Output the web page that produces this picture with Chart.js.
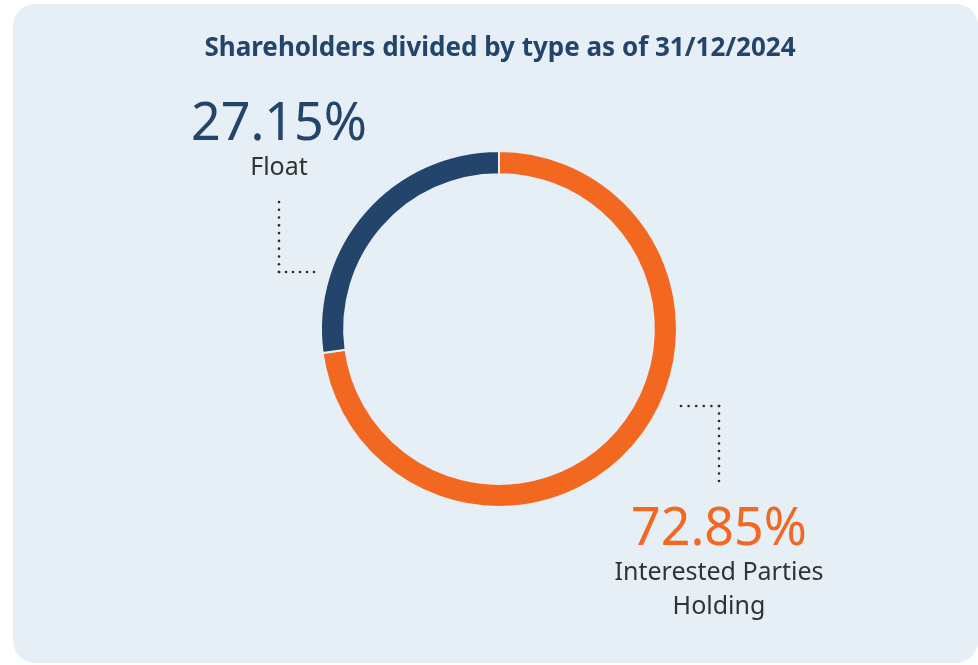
<!DOCTYPE html>
<html>
<head>
<meta charset="utf-8">
<script src="https://cdn.jsdelivr.net/npm/chart.js@4"></script>
<style>
  html, body { margin: 0; padding: 0; background: #fff; }
  #panel { position: absolute; left: 13px; top: 4px; width: 965px; height: 659px; border-radius: 22px; background: #e6eff5; }
  #wrap { position: absolute; left: 0; top: 0; width: 978px; height: 665px; }
</style>
</head>
<body>
<div id="panel"></div>
<div id="wrap"><canvas id="myCanvas"></canvas></div>
<script>
var titleText = "Shareholders divided by type as of 31/12/2024";
var labels = ["Interested Parties Holding", "Float"];
var values = [72.85, 27.15];
var colors = ["#f36821", "#24456b"];

// text + dotted leaders for each slice
var calloutPlugin = {
  id: "callouts",
  afterDraw: function(chart) {
    var ctx = chart.ctx;
    ctx.save();
    ctx.textAlign = "center";
    ctx.textBaseline = "alphabetic";

    ctx.fillStyle = "#24456b";
    ctx.font = "bold 26px 'Noto Sans'";
    ctx.fillText(titleText, 500, 56);

    // Float
    ctx.fillStyle = colors[1];
    ctx.font = "52px 'Noto Sans'";
    ctx.fillText(values[1].toFixed(2) + "%", 279, 140);
    ctx.fillStyle = "#333333";
    ctx.font = "25px 'Noto Sans'";
    ctx.fillText(labels[1], 279, 175);

    // Interested parties
    ctx.fillStyle = colors[0];
    ctx.font = "52px 'Noto Sans'";
    ctx.fillText(values[0].toFixed(2) + "%", 719, 545);
    ctx.fillStyle = "#333333";
    ctx.font = "25px 'Noto Sans'";
    ctx.fillText("Interested Parties", 719, 580);
    ctx.fillText("Holding", 719, 614);

    function dots(x1, y1, x2, y2) {
      var len = Math.hypot(x2 - x1, y2 - y1);
      var n = Math.round(len / 7.5);
      ctx.fillStyle = "#2b2b2b";
      for (var i = 0; i <= n; i++) {
        var t = n ? i / n : 0;
        ctx.beginPath();
        ctx.arc(x1 + (x2 - x1) * t, y1 + (y2 - y1) * t, 1.3, 0, Math.PI * 2);
        ctx.fill();
      }
    }
    dots(279, 202, 279, 272);
    dots(279, 272, 314, 272);
    dots(681, 406, 719, 406);
    dots(719, 406, 719, 481);
    ctx.restore();
  }
};

var c = document.getElementById("myCanvas");
var ctx = c.getContext("2d");
const doughChart = new Chart(ctx, {
  type: "doughnut",
  data: {
    labels: labels,
    datasets: [{
      data: values,
      backgroundColor: colors,
      borderColor: "#e6eff5",
      borderWidth: 2,
      hoverOffset: 0
    }]
  },
  options: {
    responsive: true,
    maintainAspectRatio: false,
    animation: false,
    cutout: "87%",
    layout: { padding: { left: 320, right: 300, top: 150, bottom: 157 } },
    plugins: {
      legend: { display: false },
      tooltip: { enabled: false },
      title: { display: false }
    }
  },
  plugins: [calloutPlugin]
});
</script>
</body>
</html>
